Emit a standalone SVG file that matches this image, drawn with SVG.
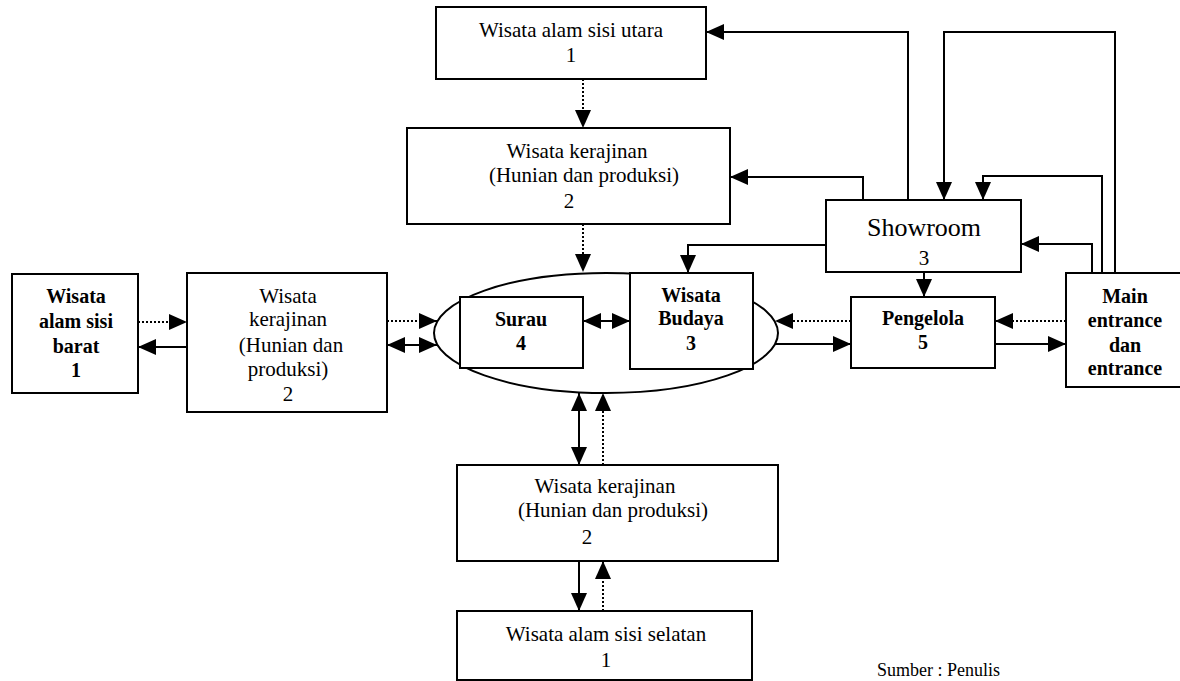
<svg xmlns="http://www.w3.org/2000/svg" width="1180" height="681" viewBox="0 0 1180 681">
  <style>
    .box { fill: #fff; stroke: #000; stroke-width: 2; }
    .lbl { font-family: "Liberation Serif", "Times New Roman", serif; font-size: 21px; fill: #000; text-anchor: middle; }
    .b { font-weight: bold; font-size: 20px; }
    .big { font-size: 26px; }
    .ln { fill: none; stroke: #000; stroke-width: 2; }
    .dot { stroke-dasharray: 2 2; }
    .end { marker-end: url(#ah); }
    .both { marker-start: url(#ah); marker-end: url(#ah); }
  </style>
  <defs>
    <marker id="ah" markerUnits="userSpaceOnUse" markerWidth="18" markerHeight="16" refX="18" refY="8" orient="auto-start-reverse">
      <path d="M0,0 L18,8 L0,16 Z" fill="#000"/>
    </marker>
  </defs>
  <rect width="1180" height="681" fill="#fff"/>

  <!-- central cluster outline -->
  <g id="cluster">
    <ellipse cx="606" cy="333" rx="172" ry="60" fill="none" stroke="#000" stroke-width="2"/>
  </g>

  <g id="utara">
    <rect class="box" x="436" y="7" width="270" height="72"/>
    <text class="lbl" x="571" y="37">Wisata alam sisi utara</text>
    <text class="lbl" x="571" y="62">1</text>
  </g>

  <g id="kerajinan-utara">
    <rect class="box" x="407" y="128" width="323" height="96"/>
    <text class="lbl" x="577" y="158">Wisata kerajinan</text>
    <text class="lbl" x="584" y="182">(Hunian dan produksi)</text>
    <text class="lbl" x="569" y="208">2</text>
  </g>

  <g id="showroom">
    <rect class="box" x="826" y="200" width="195" height="72"/>
    <text class="lbl big" x="924" y="236">Showroom</text>
    <text class="lbl" x="924" y="265">3</text>
  </g>

  <g id="barat">
    <rect class="box" x="12" y="274" width="126" height="119"/>
    <text class="lbl b" x="76" y="303">Wisata</text>
    <text class="lbl b" x="76" y="328">alam sisi</text>
    <text class="lbl b" x="76" y="353">barat</text>
    <text class="lbl b" x="76" y="377">1</text>
  </g>

  <g id="kerajinan-barat">
    <rect class="box" x="187" y="273" width="200" height="139"/>
    <text class="lbl" x="288" y="303">Wisata</text>
    <text class="lbl" x="288" y="326">kerajinan</text>
    <text class="lbl" x="291" y="352">(Hunian dan</text>
    <text class="lbl" x="288" y="376">produksi)</text>
    <text class="lbl" x="288" y="401">2</text>
  </g>

  <g id="surau">
    <rect class="box" x="460" y="297" width="123" height="71"/>
    <text class="lbl b" x="521" y="326">Surau</text>
    <text class="lbl b" x="521" y="350">4</text>
  </g>

  <g id="budaya">
    <rect class="box" x="630" y="273" width="123" height="96"/>
    <text class="lbl b" x="691" y="302">Wisata</text>
    <text class="lbl b" x="691" y="325">Budaya</text>
    <text class="lbl b" x="691" y="350">3</text>
  </g>

  <g id="pengelola">
    <rect class="box" x="851" y="297" width="144" height="71"/>
    <text class="lbl b" x="923" y="325">Pengelola</text>
    <text class="lbl b" x="923" y="349">5</text>
  </g>

  <g id="main-entrance">
    <rect class="box" x="1066" y="273" width="120" height="114"/>
    <text class="lbl b" x="1125" y="303">Main</text>
    <text class="lbl b" x="1125" y="327">entrance</text>
    <text class="lbl b" x="1125" y="352">dan</text>
    <text class="lbl b" x="1125" y="375">entrance</text>
  </g>

  <g id="kerajinan-selatan">
    <rect class="box" x="457" y="465" width="321" height="96"/>
    <text class="lbl" x="605" y="493">Wisata kerajinan</text>
    <text class="lbl" x="613" y="517">(Hunian dan produksi)</text>
    <text class="lbl" x="587" y="544">2</text>
  </g>

  <g id="selatan">
    <rect class="box" x="457" y="611" width="295" height="69"/>
    <text class="lbl" x="606" y="641">Wisata alam sisi selatan</text>
    <text class="lbl" x="606" y="667">1</text>
  </g>

  <g id="connectors">
    <path class="ln dot end" d="M583,79 V128"/>
    <path class="ln dot end" d="M583,224 V272"/>
    <path class="ln end" d="M908,200 V32 H706"/>
    <path class="ln end" d="M863,200 V177 H730"/>
    <path class="ln end" d="M1115,273 V32 H944 V200"/>
    <path class="ln end" d="M1102,273 V176 H983 V200"/>
    <path class="ln end" d="M1092,273 V244 H1021"/>
    <path class="ln end" d="M826,245 H688 V273"/>
    <path class="ln end" d="M924,272 V297"/>
    <path class="ln dot end" d="M851,321 H775"/>
    <path class="ln end" d="M775,344 H851"/>
    <path class="ln dot end" d="M1066,321 H995"/>
    <path class="ln end" d="M995,344 H1066"/>
    <path class="ln both" d="M583,321 H630"/>
    <path class="ln dot end" d="M387,321 H437"/>
    <path class="ln both" d="M387,345 H437"/>
    <path class="ln dot end" d="M138,322 H187"/>
    <path class="ln end" d="M187,347 H138"/>
    <path class="ln both" d="M579,393 V465"/>
    <path class="ln dot end" d="M603,465 V393"/>
    <path class="ln end" d="M579,561 V611"/>
    <path class="ln dot end" d="M603,611 V561"/>
  </g>

  <text class="lbl" x="877" y="676" style="text-anchor:start; font-size:18px">Sumber : Penulis</text>
</svg>
